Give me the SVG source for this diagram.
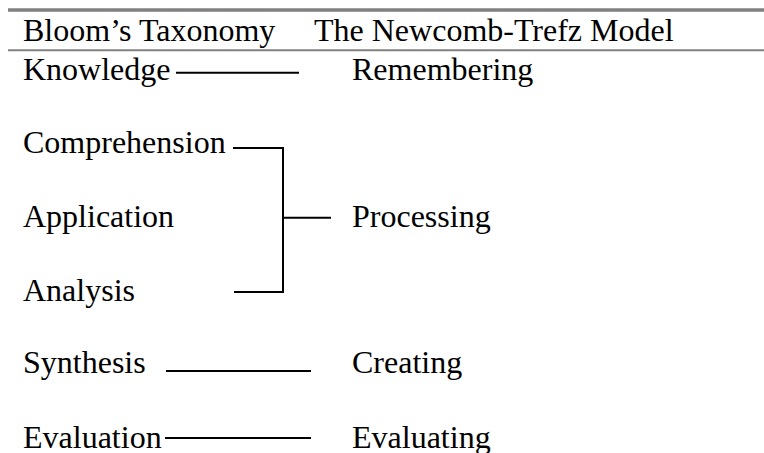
<svg xmlns="http://www.w3.org/2000/svg" width="764" height="453" viewBox="0 0 764 453">
<style>
text{font-family:"Liberation Serif","Times New Roman",serif;font-size:32px;fill:#000}
.c{stroke:#000;stroke-width:2;fill:none}
</style>
<rect width="764" height="453" fill="#fff"/>
<g id="rules">
<line x1="8" y1="10" x2="764" y2="10" stroke="#808080" stroke-width="3.5"/>
<line x1="8" y1="50.3" x2="764" y2="50.3" stroke="#808080" stroke-width="2"/>
</g>
<g id="header">
<text x="23" y="40.5">Bloom’s Taxonomy</text>
<text x="314" y="40.5">The Newcomb-Trefz Model</text>
</g>
<g id="knowledge"><text x="23" y="80">Knowledge</text></g>
<g id="comprehension"><text x="23" y="153">Comprehension</text></g>
<g id="application"><text x="23" y="227">Application</text></g>
<g id="analysis"><text x="23" y="301">Analysis</text></g>
<g id="synthesis"><text x="23" y="373">Synthesis</text></g>
<g id="evaluation"><text x="23" y="447.5">Evaluation</text></g>
<g id="remembering"><text x="352" y="80">Remembering</text></g>
<g id="processing"><text x="352" y="227">Processing</text></g>
<g id="creating"><text x="352" y="373">Creating</text></g>
<g id="evaluating"><text x="352" y="447.5">Evaluating</text></g>
<g id="connectors">
<line class="c" x1="176" y1="72.7" x2="299" y2="72.7"/>
<polyline class="c" points="233,148 283,148 283,292 234,292"/>
<line class="c" x1="283" y1="217.7" x2="331" y2="217.7"/>
<line class="c" x1="166" y1="371" x2="311" y2="371"/>
<line class="c" x1="165" y1="438" x2="311" y2="438"/>
</g>
</svg>
